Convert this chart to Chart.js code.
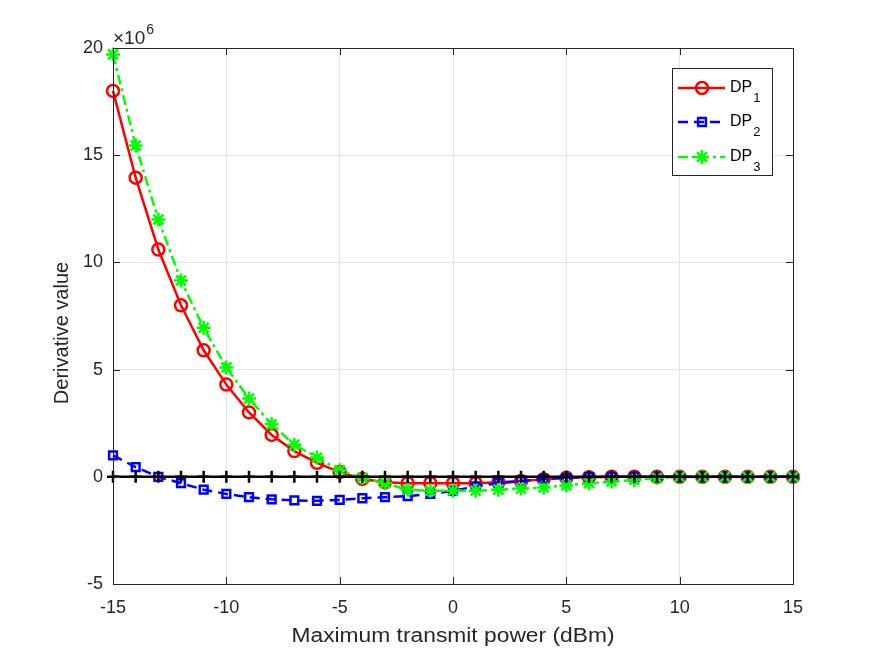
<!DOCTYPE html>
<html lang="en">
<head>
    <meta charset="UTF-8">
    <title>Derivative value vs maximum transmit power</title>
    <script src="https://cdn.jsdelivr.net/npm/chart.js"></script>
    <style>
        html, body { margin: 0; padding: 0; background: #fff; }
        #wrap { width: 875px; height: 657px; }
    </style>
</head>
<body>
    <div id="wrap"><canvas id="derivChart" width="875" height="657"></canvas></div>

    <script>
        // power levels in dBm
        const powerDbm = [-15, -14, -13, -12, -11, -10, -9, -8, -7, -6, -5, -4, -3, -2, -1, 0,
                          1, 2, 3, 4, 5, 6, 7, 8, 9, 10, 11, 12, 13, 14, 15];
        // derivative values, in units of 1e6
        const dp1 = [18.0, 13.95, 10.6, 8.0, 5.9, 4.3, 3.0, 1.95, 1.2, 0.65, 0.22, -0.1, -0.25, -0.3, -0.3, -0.3,
                     -0.3, -0.25, -0.2, -0.12, -0.05, -0.02, 0, 0, 0, 0, 0, 0, 0, 0, 0];
        const dp2 = [1.0, 0.45, 0.0, -0.3, -0.6, -0.8, -0.95, -1.05, -1.1, -1.12, -1.08, -1.0, -0.95, -0.9, -0.8, -0.65,
                     -0.45, -0.3, -0.2, -0.1, -0.05, -0.02, 0, 0, 0, 0, 0, 0, 0, 0, 0];
        const dp3 = [19.7, 15.45, 12.0, 9.15, 6.95, 5.1, 3.65, 2.45, 1.5, 0.9, 0.3, -0.05, -0.3, -0.6, -0.65, -0.65,
                     -0.65, -0.6, -0.55, -0.5, -0.4, -0.3, -0.22, -0.15, -0.05, 0, 0, 0, 0, 0, 0];
        const zeroLine = powerDbm.map(() => 0);
        const xTicks = [-15, -10, -5, 0, 5, 10, 15];
        const yTicks = [-5, 0, 5, 10, 15, 20];

        const FONT = '"Liberation Sans", Arial, Helvetica, sans-serif';
        const AXIS = '#262626';

        function pts(ys) {
            return powerDbm.map((x, i) => ({ x: x, y: ys[i] }));
        }

        // box, inward ticks, exponent, axis titles and the legend, MATLAB style
        const matlabDecor = {
            id: 'matlabDecor',
            afterDraw(chart) {
                const ctx = chart.ctx;
                const a = chart.chartArea;
                const xs = chart.scales.x, ys = chart.scales.y;
                ctx.save();
                ctx.strokeStyle = AXIS;
                ctx.lineWidth = 1;
                ctx.strokeRect(a.left + 0.5, a.top + 0.5, a.right - a.left, a.bottom - a.top);
                ctx.beginPath();
                xTicks.forEach(v => {
                    const px = Math.round(xs.getPixelForValue(v)) + 0.5;
                    ctx.moveTo(px, a.bottom); ctx.lineTo(px, a.bottom - 7);
                    ctx.moveTo(px, a.top); ctx.lineTo(px, a.top + 7);
                });
                yTicks.forEach(v => {
                    const py = Math.round(ys.getPixelForValue(v)) + 0.5;
                    ctx.moveTo(a.left, py); ctx.lineTo(a.left + 7, py);
                    ctx.moveTo(a.right, py); ctx.lineTo(a.right - 7, py);
                });
                ctx.stroke();

                // x10^6
                ctx.fillStyle = AXIS;
                ctx.textBaseline = 'alphabetic';
                ctx.textAlign = 'left';
                ctx.font = '19px ' + FONT;
                ctx.fillText('\u00d710', a.left, a.top - 4);
                const w = ctx.measureText('\u00d710').width;
                ctx.font = '14px ' + FONT;
                ctx.fillText('6', a.left + w + 1, a.top - 14);

                // axis titles
                ctx.font = '20px ' + FONT;
                ctx.textAlign = 'center';
                ctx.textBaseline = 'middle';
                ctx.save();
                ctx.translate((a.left + a.right) / 2, 636);
                ctx.scale(1.14, 1);
                ctx.fillText('Maximum transmit power (dBm)', 0, 0);
                ctx.restore();
                ctx.save();
                ctx.translate(62, 333);
                ctx.rotate(-Math.PI / 2);
                ctx.fillText('Derivative value', 0, 0);
                ctx.restore();

                // legend
                const lx = 672, ly = 68, lw = 100, lh = 107;
                ctx.fillStyle = '#fff';
                ctx.fillRect(lx, ly, lw, lh);
                ctx.strokeStyle = AXIS;
                ctx.lineWidth = 1;
                ctx.strokeRect(lx + 0.5, ly + 0.5, lw, lh);
                const entries = chart.data.datasets.filter(d => d.legendSub)
                    .sort((p, q) => p.legendSub.localeCompare(q.legendSub));
                const rows = [88, 122, 157];
                entries.forEach((d, i) => {
                    const y = rows[i];
                    ctx.strokeStyle = d.borderColor;
                    ctx.lineWidth = d.borderWidth;
                    ctx.setLineDash(d.borderDash || []);
                    ctx.beginPath();
                    ctx.moveTo(678, y); ctx.lineTo(725, y);
                    ctx.stroke();
                    ctx.setLineDash([]);
                    ctx.fillStyle = 'rgba(0,0,0,0)';
                    Chart.helpers.drawPoint(ctx, {
                        pointStyle: d.pointStyle, radius: d.pointRadius, borderWidth: d.pointBorderWidth
                    }, 702, y);
                    ctx.fillStyle = '#000';
                    ctx.textAlign = 'left';
                    ctx.textBaseline = 'middle';
                    ctx.font = '16px ' + FONT;
                    ctx.fillText('DP', 730, y);
                    const tw = ctx.measureText('DP').width;
                    ctx.font = '13px ' + FONT;
                    ctx.fillText(d.legendSub, 730 + tw + 1, y + 10);
                });
                ctx.restore();
            }
        };

        const derivChart = new Chart(document.getElementById('derivChart'), {
            type: 'line',
            data: {
                datasets: [
                    {
                        label: 'zero', data: pts(zeroLine),
                        borderColor: '#000', backgroundColor: '#000',
                        borderWidth: 2.5, pointStyle: 'cross', pointRadius: 6, pointBorderWidth: 2.5,
                        clip: false, order: 0
                    },
                    {
                        label: 'DP3', legendSub: '3', data: pts(dp3),
                        borderColor: '#00ff00', backgroundColor: 'rgba(0,0,0,0)',
                        borderWidth: 2.5, borderDash: [10, 4, 3, 4], pointStyle: 'star', pointRadius: 7,
                        pointBorderWidth: 2.5, clip: false, order: 1
                    },
                    {
                        label: 'DP2', legendSub: '2', data: pts(dp2),
                        borderColor: '#0000ff', backgroundColor: 'rgba(0,0,0,0)',
                        borderWidth: 2.5, borderDash: [10, 6], pointStyle: 'rect', pointRadius: 5.5,
                        pointBorderWidth: 2.5, clip: false, order: 2
                    },
                    {
                        label: 'DP1', legendSub: '1', data: pts(dp1),
                        borderColor: '#ff0000', backgroundColor: 'rgba(0,0,0,0)',
                        borderWidth: 2.5, pointStyle: 'circle', pointRadius: 6,
                        pointBorderWidth: 2.5, clip: false, order: 3
                    }
                ]
            },
            options: {
                responsive: false,
                animation: false,
                layout: { padding: { left: 0, top: 48, right: 82, bottom: 0 } },
                plugins: { legend: { display: false }, tooltip: { enabled: false } },
                scales: {
                    x: {
                        type: 'linear', min: -15, max: 15,
                        afterBuildTicks: s => { s.ticks = xTicks.map(v => ({ value: v })); },
                        afterFit: s => { s.height = 73; },
                        ticks: { color: AXIS, font: { family: FONT, size: 18 }, padding: 13 },
                        grid: { color: '#e3e3e3', drawTicks: false },
                        border: { display: false }
                    },
                    y: {
                        min: -5, max: 20,
                        afterBuildTicks: s => { s.ticks = yTicks.map(v => ({ value: v })); },
                        afterFit: s => { s.width = 113; },
                        ticks: { color: AXIS, font: { family: FONT, size: 18 }, padding: 10 },
                        grid: { color: '#e3e3e3', drawTicks: false },
                        border: { display: false }
                    }
                }
            },
            plugins: [matlabDecor]
        });
    </script>
</body>
</html>
